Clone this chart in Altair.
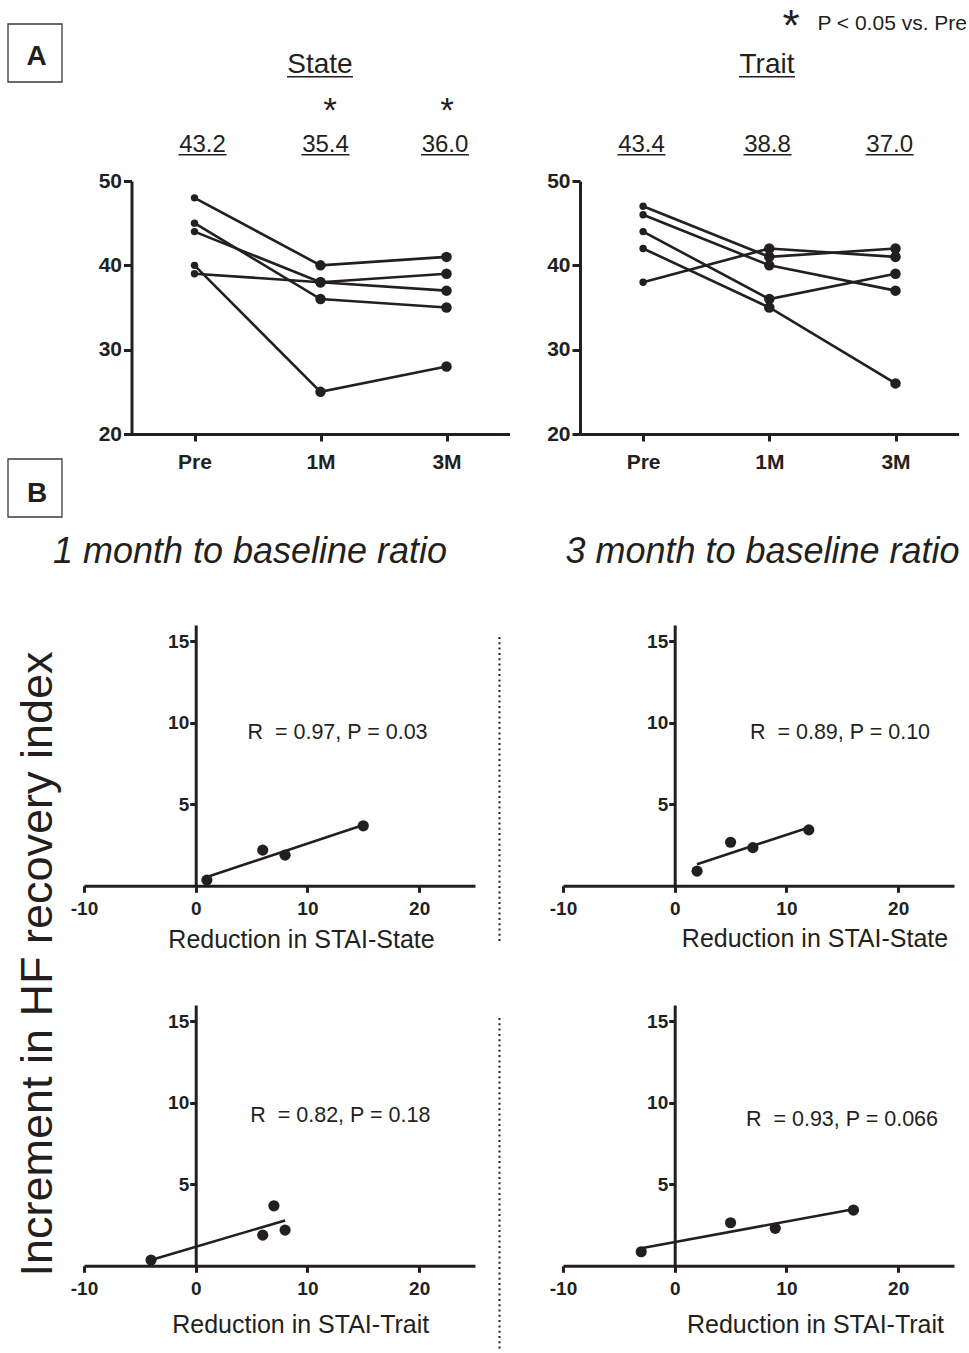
import altair as alt
import pandas as pd

INK = "#231f20"
FONT = "Liberation Sans"

# ---------------- data ----------------
TIMES = ["Pre", "1M", "3M"]
STATE_PRE = [48, 45, 44, 39, 40]
STATE_1M = [40, 36, 38, 38, 25]
STATE_3M = [41, 35, 37, 39, 28]
TRAIT_PRE = [47, 46, 44, 42, 38]
TRAIT_1M = [41, 40, 36, 35, 42]
TRAIT_3M = [42, 37, 39, 26, 41]
STATE_MEANS = ["43.2", "35.4", "36.0"]
TRAIT_MEANS = ["43.4", "38.8", "37.0"]
STATE_SIG = ["", "*", "*"]

SC1_X = [1, 6, 8, 15]
SC1_Y = [0.35, 2.19, 1.88, 3.68]
SC2_X = [2, 5, 7, 12]
SC2_Y = [0.90, 2.67, 2.34, 3.43]
SC3_X = [-4, 6, 7, 8]
SC3_Y = [0.35, 1.88, 3.68, 2.19]
SC4_X = [-3, 5, 9, 16]
SC4_Y = [0.86, 2.64, 2.30, 3.42]
R_LABELS = ["R\u00a0 = 0.97, P = 0.03", "R\u00a0 = 0.89, P = 0.10",
            "R\u00a0 = 0.82, P = 0.18", "R\u00a0 = 0.93, P = 0.066"]
X_TITLES = ["Reduction in STAI-State", "Reduction in STAI-State",
            "Reduction in STAI-Trait", "Reduction in STAI-Trait"]
HEADINGS = ["1 month to baseline ratio", "3 month to baseline ratio"]
Y_TITLE = "Increment in HF recovery index"
PANEL_LABELS = ["A", "B"]
PANEL_TITLES = ["State", "Trait"]
LEGEND_TEXT = "P < 0.05 vs. Pre"

# ---------------- layout (absolute pixels) ----------------
OX, OY = 84, 181  # origin of first panel's plot area
DUMMY = alt.Data(values=[{}])


def txt(s, x, y, size, weight="normal", style="normal", align="center",
        baseline="alphabetic", angle=0):
    kw = dict(text=s, font=FONT, fontSize=size, fontWeight=weight,
              fontStyle=style, align=align, baseline=baseline, color=INK)
    if angle:
        kw["angle"] = angle
    return alt.Chart(DUMMY).mark_text(**kw).encode(
        x=alt.value(x - OX), y=alt.value(y - OY))


def hline(x1, x2, y, w=1.6):
    return alt.Chart(DUMMY).mark_rule(color=INK, strokeWidth=w).encode(
        x=alt.value(x1 - OX), x2=alt.value(x2 - OX), y=alt.value(y - OY))


def vdots(x, y1, y2):
    return alt.Chart(DUMMY).mark_rule(color=INK, strokeWidth=2,
                                      strokeDash=[2, 3.3]).encode(
        x=alt.value(x - OX), y=alt.value(y1 - OY), y2=alt.value(y2 - OY))


def box(x1, y1, x2, y2):
    return alt.Chart(DUMMY).mark_rect(fill="white", stroke="#3a3a3a",
                                      strokeWidth=1.3).encode(
        x=alt.value(x1 - OX), x2=alt.value(x2 - OX),
        y=alt.value(y1 - OY), y2=alt.value(y2 - OY))


anchor = alt.Chart(DUMMY).mark_rect(opacity=0).encode(
    x=alt.value(-OX), x2=alt.value(969 - OX),
    y=alt.value(-OY), y2=alt.value(1353 - OY))

annots = [anchor]
# panel boxes
annots += [box(8, 24, 62, 82), txt(PANEL_LABELS[0], 36.5, 65, 28, weight="bold"),
           box(8, 459, 62, 517), txt(PANEL_LABELS[1], 37, 502, 28, weight="bold")]
# titles State / Trait
annots += [txt(PANEL_TITLES[0], 320, 72.5, 28), hline(287, 353, 76.7),
           txt(PANEL_TITLES[1], 767, 72.5, 28), hline(739, 795, 76.7)]
# means
for s, cx in zip(STATE_MEANS, [202.5, 325.5, 445]):
    annots += [txt(s, cx, 151.5, 24), hline(cx - 24, cx + 24, 154.8)]
for s, cx in zip(TRAIT_MEANS, [641.5, 767.5, 889.7]):
    annots += [txt(s, cx, 151.5, 24), hline(cx - 24, cx + 24, 154.8)]
for s, cx in zip(STATE_SIG, [203, 330, 447]):
    if s:
        annots.append(txt(s, cx, 122, 35, baseline="alphabetic"))
# legend
annots += [txt("*", 791, 41, 44), txt(LEGEND_TEXT, 967, 29.5, 21, align="right")]
# section B headings
annots += [txt(HEADINGS[0], 250, 563, 36, style="italic"),
           txt(HEADINGS[1], 762.5, 563, 36, style="italic")]
annots.append(txt(Y_TITLE, 38, 964, 45, baseline="middle", angle=270))
# scatter annotations
for s, (cx, by) in zip(R_LABELS, [(337.5, 739), (840, 739), (340.3, 1121.7), (842, 1125.7)]):
    annots.append(txt(s, cx, by, 21.5))
for s, (cx, by) in zip(X_TITLES, [(301.5, 948), (815, 947), (300.7, 1333), (815.5, 1333)]):
    annots.append(txt(s, cx, by, 25))
annots += [vdots(499.5, 637, 943), vdots(499.5, 1018, 1350)]

LABEL_EXPR = "[" + ",".join("'%s'" % t for t in TIMES) + "][datum.value]"
AXIS_W = 3.0
LINE_W = 2.6


def line_panel(pre, m1, m3, width, axis_px, step, extra):
    rows = []
    for i, vals in enumerate(zip(pre, m1, m3)):
        for t, v in enumerate(vals):
            rows.append({"subj": i, "t": t, "v": v})
    df = pd.DataFrame(rows)
    xs = alt.Scale(domain=[-0.5, 2.5], range=[axis_px, axis_px + 3 * step],
                   nice=False, zero=False)
    ys = alt.Scale(domain=[20, 50], nice=False, zero=False)
    xaxis = alt.Axis(values=[0, 1, 2], labelExpr=LABEL_EXPR, title="", grid=False,
                     domainColor=INK, domainWidth=AXIS_W, tickColor=INK, tickWidth=AXIS_W,
                     tickSize=7, labelFont=FONT, labelFontWeight="bold",
                     labelFontSize=21, labelColor=INK, labelPadding=10,
                     labelFlush=False, labelOverlap=False)
    yaxis = alt.Axis(values=[20, 30, 40, 50], title="", grid=False, offset=-axis_px,
                     domainColor=INK, domainWidth=AXIS_W, tickColor=INK, tickWidth=AXIS_W,
                     tickSize=8, labelFont=FONT, labelFontWeight="bold",
                     labelFontSize=21, labelColor=INK, labelPadding=2,
                     labelOverlap=False)
    X = alt.X("t:Q", scale=xs, axis=xaxis)
    Y = alt.Y("v:Q", scale=ys, axis=yaxis)
    base = alt.Chart(df)
    lines = base.mark_line(color=INK, strokeWidth=LINE_W).encode(x=X, y=Y, detail="subj:N")
    pre_pts = base.transform_filter("datum.t == 0").mark_circle(
        size=55, color=INK, opacity=1).encode(x=X, y=Y)
    post_pts = base.transform_filter("datum.t > 0").mark_circle(
        size=110, color=INK, opacity=1).encode(x=X, y=Y)
    return alt.layer(*extra, lines, pre_pts, post_pts).properties(width=width, height=253)


SC_W, SC_H = 391, 260.8
X0PX = 10 * SC_W / 35.0


def scatter_panel(xv, yv):
    df = pd.DataFrame({"x": xv, "y": yv})
    xsc = alt.Scale(domain=[-10, 25], nice=False, zero=False)
    ysc = alt.Scale(domain=[0, 16], nice=False, zero=False)
    xaxis = alt.Axis(values=[-10, 0, 10, 20], labelExpr="'' + datum.value", title="",
                     grid=False, domainColor=INK, domainWidth=AXIS_W, tickColor=INK,
                     tickWidth=AXIS_W, tickSize=6.5, labelFont=FONT, labelFontWeight="bold",
                     labelFontSize=19, labelColor=INK, labelPadding=7,
                     labelFlush=False, labelOverlap=False)
    yaxis = alt.Axis(values=[5, 10, 15], title="", grid=False, offset=-X0PX,
                     domainColor=INK, domainWidth=AXIS_W, tickColor=INK, tickWidth=AXIS_W,
                     tickSize=6, labelFont=FONT, labelFontWeight="bold",
                     labelFontSize=19, labelColor=INK, labelPadding=1,
                     labelOverlap=False)
    X = alt.X("x:Q", scale=xsc, axis=xaxis)
    Y = alt.Y("y:Q", scale=ysc, axis=yaxis)
    base = alt.Chart(df)
    reg = base.transform_regression("x", "y").mark_line(
        color=INK, strokeWidth=LINE_W).encode(x=X, y=Y)
    pts = base.mark_circle(size=125, color=INK, opacity=1).encode(x=X, y=Y)
    return alt.layer(reg, pts).properties(width=SC_W, height=SC_H)


def spacer(h):
    return alt.Chart(DUMMY).mark_point(opacity=0).properties(width=10, height=h)


state = line_panel(STATE_PRE, STATE_1M, STATE_3M, 479, 47.5, 126.0, annots)
trait = line_panel(TRAIT_PRE, TRAIT_1M, TRAIT_3M, 396, 17.0, 126.2, [])

chart = alt.concat(
    state, trait,
    spacer(190.6), spacer(190.6),
    scatter_panel(SC1_X, SC1_Y), scatter_panel(SC2_X, SC2_Y),
    spacer(119), spacer(119),
    scatter_panel(SC3_X, SC3_Y), scatter_panel(SC4_X, SC4_Y),
    columns=2, spacing=0, bounds="flush", align="each",
).configure_view(strokeWidth=0).properties(padding=0, background="white")

chart.save("out.html", embed_options={"renderer": "svg", "actions": False})
